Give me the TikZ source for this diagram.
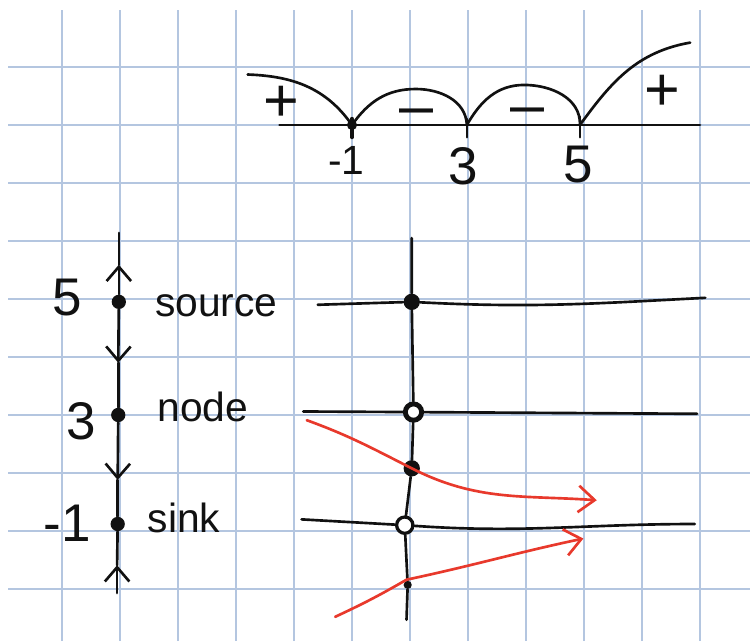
\documentclass[tikz,border=0pt]{standalone}
\usepackage{fontspec}
\setmainfont{Liberation Sans}
\usepackage{tikz}
\usetikzlibrary{arrows.meta,positioning}
\definecolor{gridblue}{HTML}{B4C6E0}
\definecolor{pen}{HTML}{111111}
\definecolor{redpen}{HTML}{E8392C}

\begin{document}
\begin{tikzpicture}[
  gridline/.style={draw=gridblue,line width=0.7pt},
  ink/.style={draw=pen,line width=1.3pt,line cap=round,line join=round},
  flow/.style={ink,-{Straight Barb[length=7pt,width=12pt]}},
  redflow/.style={draw=redpen,line width=1.3pt,line cap=round,
                  -{Straight Barb[length=8pt,width=13pt]}},
  dot/.style={circle,fill=pen,inner sep=0pt,minimum size=7pt},
  ring/.style={circle,draw=pen,fill=white,line width=2pt,inner sep=0pt,minimum size=8pt},
  word/.style={font=\fontsize{20}{24}\selectfont,text=pen,inner sep=0pt},
  num/.style={font=\fontsize{26}{30}\selectfont,text=pen,inner sep=0pt},
  smallnum/.style={font=\fontsize{20}{24}\selectfont,text=pen,inner sep=0pt},
  sign/.style={font=\fontsize{30}{32}\selectfont,text=pen,inner sep=0pt}
]
  \useasboundingbox (-1.069,-0.897) rectangle (11.862,10.155);
  \fill[white] (-1.069,-0.897) rectangle (11.862,10.155);

  % squared paper
  \foreach \x in {0,...,11} \draw[gridline] (\x,-0.897) -- (\x,9.98);
  \foreach \y in {0,...,9} \draw[gridline] (-0.93,\y) -- (11.862,\y);

  % sign chart
  \coordinate (nl) at (3.75,8);
  \coordinate (nr) at (11,8);
  \node[dot,minimum size=5pt] (rm1) at (5,8) {};
  \coordinate (r3) at (6.98,8);
  \coordinate (r5) at (8.93,8);
  \coordinate (cs) at (3.2,8.87);
  \coordinate (pk1) at (6.1,8.62);
  \coordinate (pk2) at (7.97,8.69);
  \coordinate (ce) at (10.83,9.42);
  \draw[ink] (nl) -- (rm1) -- (r3) -- (r5) -- (nr);
  \draw[ink,line width=2pt] ([yshift=3pt]rm1.center) -- ([yshift=-6pt]rm1.center);
  \draw[ink] ([yshift=3pt]r3) -- ([yshift=-6pt]r3);
  \draw[ink] ([yshift=4pt]r5) -- ([yshift=-6pt]r5);
  \draw[ink] (cs) to[out=-2,in=125] (rm1.center) to[out=55,in=180] (pk1)
    to[out=0,in=92] (r3) to[out=60,in=180] (pk2) to[out=0,in=88] (r5)
    to[out=54,in=190] (ce);
  \node[sign] (pl) at (3.78,8.37) {+};
  \node[sign] (mi1) at (6.11,8.13) {–};
  \node[sign] (mi2) at (8.03,8.14) {–};
  \node[sign] (pr) at (10.35,8.56) {+};
  \node[smallnum,anchor=base] (lm1) at (4.9,7.14) {-1};
  \node[num,anchor=base] (l3) at (6.92,6.97) {3};
  \node[num,anchor=base] (l5) at (8.9,7.0) {5};

  % phase line
  \coordinate (ptop) at (0.98,6.14);
  \coordinate (pbot) at (0.95,-0.07);
  \node[dot] (s5) at (0.98,4.95) {};
  \node[dot] (s3) at (0.97,3.0) {};
  \node[dot] (s1) at (0.96,1.12) {};
  \coordinate (u1) at (0.98,5.59);
  \coordinate (d1) at (0.97,3.9);
  \coordinate (d2) at (0.96,1.88);
  \coordinate (u2) at (0.95,0.41);
  \draw[ink] (ptop) -- (u1);
  \draw[flow] (s5) -- (u1);
  \draw[flow] (s5) -- (d1);
  \draw[ink] (d1) -- (s3);
  \draw[flow] (s3) -- (d2);
  \draw[ink] (d2) -- (s1);
  \draw[flow] (pbot) -- (u2);
  \draw[ink] (u2) -- (s1);
  \node[num,anchor=base east] (n5) at (0.36,4.72) {5};
  \node[num,anchor=base east] (n3) at (0.6,2.57) {3};
  \node[num,anchor=base east] (nm1) at (0.5,0.81) {-1};
  \node[word,anchor=base west] (wsrc) at (1.6,4.69) {source};
  \node[word,anchor=base west] (wnode) at (1.64,2.88) {node};
  \node[word,anchor=base west] (wsink) at (1.47,0.98) {sink};

  % solution curves
  \coordinate (vtop) at (6.03,6.05);
  \coordinate (vbot) at (5.94,-0.53);
  \node[dot,minimum size=8pt] (q5) at (6.03,4.95) {};
  \node[ring,line width=2.4pt] (q3) at (6.06,3.05) {};
  \node[dot,minimum size=8pt] (qm) at (6.03,2.08) {};
  \node[ring,line width=1.6pt] (q1) at (5.91,1.1) {};
  \node[dot,minimum size=4pt] (q0) at (5.96,0.07) {};
  \draw[ink] (vtop) -- (q5) -- (q3) -- (qm) -- (q1) -- (q0) -- (vbot);
  \coordinate (a5) at (4.41,4.9);
  \coordinate (b5) at (11.09,5.02);
  \coordinate (a3) at (4.16,3.06);
  \coordinate (b3) at (10.95,3.02);
  \coordinate (a1) at (4.13,1.2);
  \coordinate (b1) at (10.91,1.12);
  \draw[ink] (a5) -- (q5) to[out=-3,in=183] (b5);
  \draw[ink] (a3) -- (q3) -- (b3);
  \draw[ink] (a1) -- (q1) to[out=-4,in=180] (b1);
  \coordinate (ra) at (4.22,2.91);
  \coordinate (rb) at (9.22,1.53);
  \coordinate (rc) at (4.71,-0.48);
  \coordinate (rx) at (5.94,0.16);
  \coordinate (rd) at (8.99,0.87);
  \draw[redflow] (ra) to[out=-20,in=153] (qm.center) to[out=-27,in=176] (rb);
  \draw[redflow] (rc) to[out=25,in=-150] (rx) to[out=12,in=-168] (rd);
\end{tikzpicture}
\end{document}
